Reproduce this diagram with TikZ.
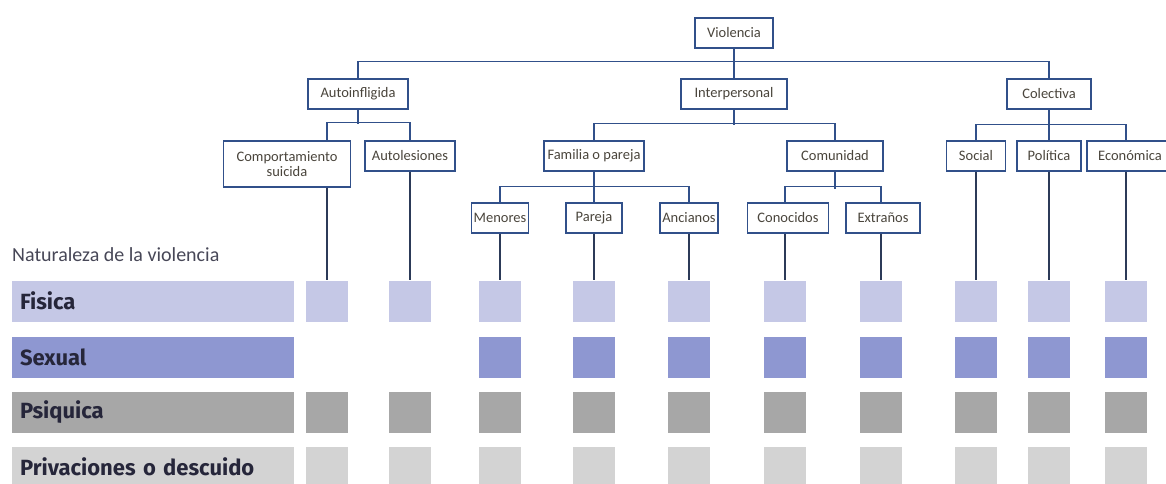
\documentclass[tikz,border=0pt]{standalone}
\usepackage{fontspec}
\setmainfont{Carlito}
\newfontfamily\barfont{Fira Sans}

\definecolor{treeblue}{HTML}{31508A}
\definecolor{leafblue}{HTML}{2C3A58}
\definecolor{boxtext}{HTML}{4A453C}
\definecolor{labeltext}{HTML}{26263A}
\definecolor{fisicacol}{HTML}{C5C8E6}
\definecolor{sexualcol}{HTML}{8E97D1}
\definecolor{psiquicacol}{HTML}{A7A7A7}
\definecolor{privcol}{HTML}{D3D3D3}

\begin{document}
\begin{tikzpicture}[x=1pt, y=-1pt,
    box/.style={draw=treeblue, line width=1.4pt, fill=white, text=boxtext,
      font=\fontsize{14.5}{15}\selectfont, inner sep=2pt, minimum height=30pt},
    link/.style={draw=treeblue, line width=1.3pt},
    bar/.style={minimum height=41pt, inner xsep=8pt, inner ysep=0pt,
      text width=266pt, align=left, text=labeltext,
      font=\barfont\bfseries\fontsize{22}{23}\selectfont},
    cell/.style={minimum width=42pt, minimum height=41pt, inner sep=0pt}]

  \useasboundingbox (0,0) rectangle (1166,484);

  % nature of violence
  \node[anchor=west, inner sep=0pt, text=labeltext!85,
    font=\fontsize{20}{21}\selectfont] (naturaleza) at (12,255) {Naturaleza de la violencia};
  \node[bar, fill=fisicacol] (fisica) at (153,301) {Fisica};
  \node[bar, fill=sexualcol] (sexual) at (153,357) {Sexual};
  \node[bar, fill=psiquicacol] (psiquica) at (153,412) {Psiquica};
  \node[bar, fill=privcol] (privaciones) at (153,467) {Privaciones o descuido};

  \foreach \c/\x in {1/327,2/410,3/500,4/594,5/689,6/785,7/881,8/976,9/1049,10/1126} {
    \node[cell, fill=fisicacol] (f\c) at (\x,301) {};
    \ifnum\c>2 \node[cell, fill=sexualcol] (s\c) at (\x,357) {};\fi
    \node[cell, fill=psiquicacol] (p\c) at (\x,412) {};
    \node[cell, fill=privcol] (d\c) at (\x,467) {};
  }

  % typology
  \node[box, minimum width=78pt] (violencia) at (734,33) {Violencia};
  \node[box, minimum width=100pt] (autoinf) at (358,94) {Autoinfligida};
  \node[box, minimum width=106pt] (interp) at (734,94) {Interpersonal};
  \node[box, minimum width=84pt] (colectiva) at (1049,94) {Colectiva};

  \node[box, minimum width=127pt, minimum height=46pt, align=center] (comportamiento) at (287,164) {Comportamiento\\suicida};
  \node[box, minimum width=90pt] (autolesiones) at (410,156) {Autolesiones};
  \node[box, minimum width=100pt] (familia) at (594,156) {Familia o pareja};
  \node[box, minimum width=96pt] (comunidad) at (835,156) {Comunidad};
  \node[box, minimum width=59pt] (social) at (976,156) {Social};
  \node[box, minimum width=64pt] (politica) at (1049,156) {Política};
  \node[box, minimum width=86pt] (economica) at (1130,156) {Económica};

  \node[box, minimum width=52pt] (menores) at (500,218) {Menores};
  \node[box, minimum width=56pt] (pareja) at (594,218) {Pareja};
  \node[box, minimum width=58pt] (ancianos) at (689,218) {Ancianos};
  \node[box, minimum width=81pt] (conocidos) at (788,218) {Conocidos};
  \node[box, minimum width=74pt] (extranos) at (883,218) {Extraños};

  \draw[link] (violencia.south) -- (interp.north);
  \draw[link] (autoinf.north) -- ++(0,-17) -| (colectiva.north);

  \draw[link] (autoinf.south) -- ++(0,14);
  \draw[link] (comportamiento.north -| f1.north) -- ++(0,-18) -| (autolesiones.north);
  \draw[link] (interp.south) -- ++(0,15);
  \draw[link] (familia.north) -- ++(0,-17) -| (comunidad.north);
  \draw[link] (colectiva.south) -- (politica.north);
  \draw[link] (social.north) -- ++(0,-16) -| (economica.north -| f10.north);

  \draw[link] (familia.south) -- (pareja.north);
  \draw[link] (menores.north) -- ++(0,-16) -| (ancianos.north);
  \draw[link] (comunidad.south) -- ++(0,17);
  \draw[link] (conocidos.north -| f6.north) -- ++(0,-16) -| (extranos.north -| f7.north);

  \foreach \n/\c in {comportamiento/1, autolesiones/2, menores/3, pareja/4, ancianos/5,
      conocidos/6, extranos/7, social/8, politica/9, economica/10}
    \draw[link, draw=leafblue, line width=1.1pt] (\n.south -| f\c.north) -- (f\c.north);
\end{tikzpicture}
\end{document}
